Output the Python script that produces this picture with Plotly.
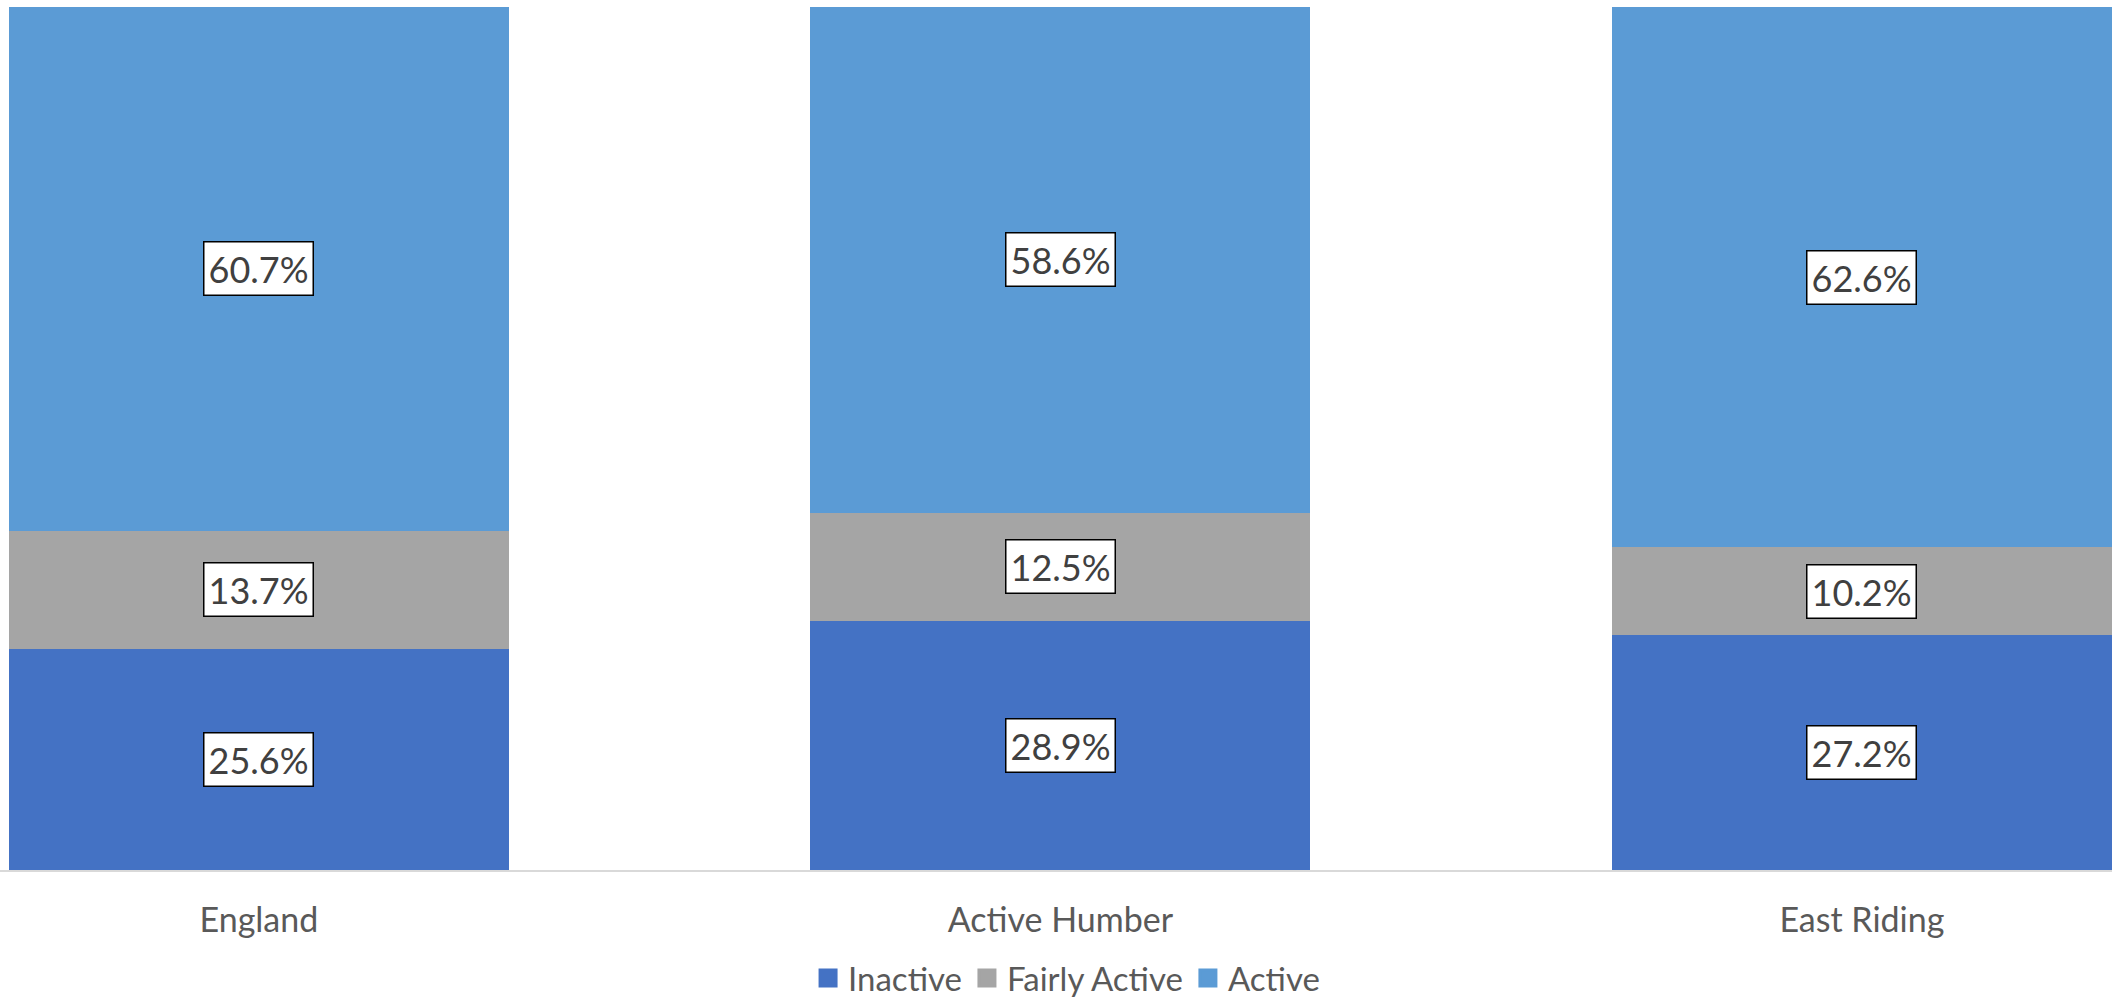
import plotly.graph_objects as go

categories = ["England", "Active Humber", "East Riding"]
series_names = ["Inactive", "Fairly Active", "Active"]
inactive = [25.6, 28.9, 27.2]
fairly_active = [13.7, 12.5, 10.2]
active = [60.7, 58.6, 62.6]
colors = ["#4472C4", "#A5A5A5", "#5B9BD5"]

values = [inactive, fairly_active, active]

W, H = 2112, 1004
fig = go.Figure()

xs = list(range(len(categories)))
for name, vals, col in zip(series_names, values, colors):
    fig.add_trace(go.Bar(
        x=xs, y=vals, name=name, marker=dict(color=col, line=dict(width=0)),
        width=0.624, showlegend=False, hoverinfo="skip",
    ))
    # legend proxy with larger square
    fig.add_trace(go.Scatter(
        x=[None], y=[None], mode="markers", name=name,
        marker=dict(symbol="square", size=16, color=col, line=dict(width=3, color=col)),
        showlegend=True,
    ))

annotations = []
base = [0.0] * len(categories)
for vals in values:
    for i, v in enumerate(vals):
        annotations.append(dict(
            x=xs[i], y=base[i] + v / 2, xref="x", yref="y",
            text=f"{v:.1f}%", showarrow=False,
            font=dict(family="Lato", size=36, color="#404040"),
            bgcolor="white", bordercolor="black", borderwidth=1.5, borderpad=4,
        ))
        base[i] += v

fig.update_layout(
    width=W, height=H,
    barmode="stack",
    bargap=0,
    margin=dict(l=0, r=0, t=7, b=134, pad=0, autoexpand=False),
    paper_bgcolor="white", plot_bgcolor="white",
    annotations=annotations,
    legend=dict(
        orientation="h", x=0.505, xanchor="center",
        yref="container", y=(H - 978) / H, yanchor="middle",
        font=dict(family="Lato", size=33, color="#595959"),
        itemsizing="trace", traceorder="normal",
    ),
    xaxis=dict(
        range=[-0.323, 2.312], tickmode="array", tickvals=xs, ticktext=categories,
        showgrid=False, zeroline=False, showline=True, linecolor="#D9D9D9", linewidth=2,
        ticks="", ticklabelstandoff=19, automargin=False,
        tickfont=dict(family="Lato", size=34, color="#595959"),
        fixedrange=True,
    ),
    yaxis=dict(range=[0, 100], visible=False, showgrid=False, zeroline=False, fixedrange=True),
)

fig.write_html("out.html")
